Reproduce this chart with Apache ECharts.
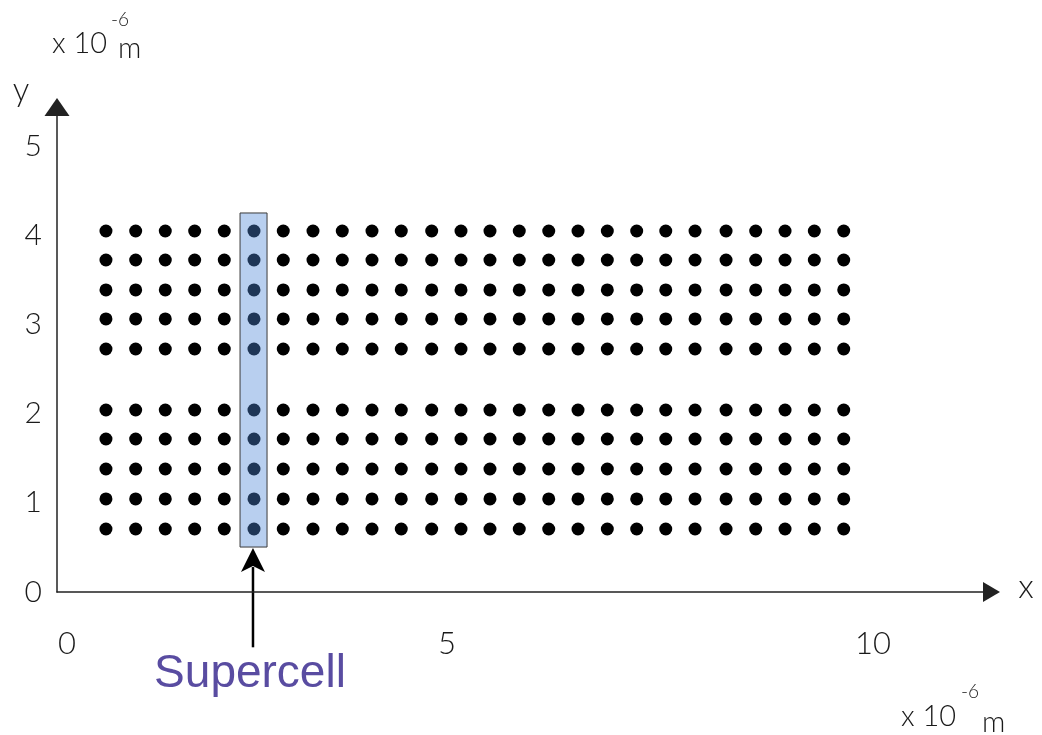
<!DOCTYPE html>
<html>
<head>
<meta charset="utf-8">
<script src="https://cdn.jsdelivr.net/npm/echarts@6/dist/echarts.min.js"></script>
<style>
html,body{margin:0;padding:0;background:#fff;}
#main{width:1042px;height:735px;}
</style>
</head>
<body>
<div id="main"></div>
<script>
// ---- data (units of 10^-6 m) ----
const xColumns = [0.600, 0.964, 1.327, 1.687, 2.050, 2.414, 2.773, 3.137, 3.496, 3.860, 4.219, 4.592, 4.951,
                  5.306, 5.665, 6.026, 6.385, 6.744, 7.104, 7.460, 7.819, 8.199, 8.562, 8.922, 9.281, 9.641];
const yRows = [0.706, 1.043, 1.379, 1.715, 2.040, 2.724, 3.061, 3.386, 3.722, 4.047];
const supercellColumn = 5;
const supercellXRange = [2.243, 2.574];
const supercellYRange = [0.504, 4.249];
const xTickLabels = [0, 5, 10];
const yTickLabels = [0, 1, 2, 3, 4, 5];
const arrowTailY = -0.62;

const points = [];
xColumns.forEach((x, i) => yRows.forEach(y => points.push([x, y, i])));

const chart = echarts.init(document.getElementById('main'), null, {renderer: 'canvas'});
const labelFont = 'Lato, "Open Sans", sans-serif';

chart.setOption({
  animation: false,
  backgroundColor: '#ffffff',
  grid: {left: 57, right: 50.5, top: 107, bottom: 143, containLabel: false},
  xAxis: {
    type: 'value', min: 0, max: 11.452, interval: 5,
    splitLine: {show: false}, axisTick: {show: false},
    axisLine: {onZero: false, lineStyle: {color: '#222', width: 1.5},
      symbol: ['none', 'triangle'], symbolSize: [20, 17]},
    axisLabel: {
      margin: 36, showMaxLabel: false, color: '#1a1a1a',
      fontFamily: labelFont, fontWeight: 300, fontSize: 31,
      formatter: v => {
        if (!xTickLabels.includes(v)) return '';
        if (v === 0) return '{a|' + v + '}';
        if (v === 5) return '{b|' + v + '}';
        return '{c|' + v + '}';
      },
      rich: {
        a: {padding: [0, 0, 0, 20], fontFamily: labelFont, fontWeight: 300, fontSize: 31, color: '#1a1a1a'},
        b: {padding: [0, 36, 0, 0], fontFamily: labelFont, fontWeight: 300, fontSize: 31, color: '#1a1a1a'},
        c: {fontFamily: labelFont, fontWeight: 300, fontSize: 31, color: '#1a1a1a'}
      }
    }
  },
  yAxis: {
    type: 'value', min: 0, max: 5.437, interval: 1,
    splitLine: {show: false}, axisTick: {show: false},
    axisLine: {onZero: false, lineStyle: {color: '#222', width: 1.5},
      symbol: ['none', 'triangle'], symbolSize: [25, 18]},
    axisLabel: {
      margin: 15, showMaxLabel: false, color: '#1a1a1a',
      fontFamily: labelFont, fontWeight: 300, fontSize: 30,
      formatter: v => yTickLabels.includes(v) ? String(v) : ''
    }
  },
  series: [
    {
      type: 'scatter', data: points, symbol: 'circle', symbolSize: 13, z: 2,
      itemStyle: {color: '#000', opacity: 1}, silent: true
    },
    {
      type: 'custom', z: 3, silent: true, clip: false,
      data: [[supercellXRange[0], supercellYRange[1], supercellXRange[1], supercellYRange[0]]],
      renderItem: (params, api) => {
        const p1 = api.coord([api.value(0), api.value(1)]);
        const p2 = api.coord([api.value(2), api.value(3)]);
        return {
          type: 'rect',
          shape: {x: p1[0], y: p1[1], width: p2[0] - p1[0], height: p2[1] - p1[1]},
          style: {fill: 'rgba(77,135,215,0.4)', stroke: '#3a3a3a', lineWidth: 1}
        };
      }
    }
  ]
});

// annotations
const tip = chart.convertToPixel({gridIndex: 0}, [xColumns[supercellColumn], supercellYRange[0]]);
const tail = chart.convertToPixel({gridIndex: 0}, [xColumns[supercellColumn], arrowTailY]);
const ax = tip[0] - 1;
const textFont = 'Lato, "Open Sans", sans-serif';
chart.setOption({
  graphic: [
    {type: 'line', shape: {x1: ax, y1: tail[1], x2: ax, y2: tip[1] + 20}, style: {stroke: '#000', lineWidth: 2.5}},
    {type: 'polygon', shape: {points: [[ax, tip[1] + 1], [ax - 12, tip[1] + 25], [ax, tip[1] + 19], [ax + 12, tip[1] + 25]]},
      style: {fill: '#000'}},
    {type: 'text', x: 250, y: 674, style: {text: 'Supercell', fill: '#594ca1',
      font: '46px "Liberation Sans", Arial, sans-serif', align: 'center', verticalAlign: 'middle'}},
    {type: 'text', x: 21, y: 90, style: {text: 'y', fill: '#1a1a1a',
      font: '300 33px ' + textFont, align: 'center', verticalAlign: 'middle'}},
    {type: 'text', x: 1026, y: 587, style: {text: 'x', fill: '#1a1a1a',
      font: '300 33px ' + textFont, align: 'center', verticalAlign: 'middle'}},
    {type: 'text', x: 52, y: 44, style: {text: 'x 10', fill: '#1a1a1a',
      font: '300 29px ' + textFont, align: 'left', verticalAlign: 'middle'}},
    {type: 'text', x: 111, y: 20, style: {text: '-6', fill: '#1a1a1a',
      font: '300 19px ' + textFont, align: 'left', verticalAlign: 'middle'}},
    {type: 'text', x: 118, y: 49, style: {text: 'm', fill: '#1a1a1a',
      font: '300 29px ' + textFont, align: 'left', verticalAlign: 'middle'}},
    {type: 'text', x: 901, y: 717, style: {text: 'x 10', fill: '#1a1a1a',
      font: '300 29px ' + textFont, align: 'left', verticalAlign: 'middle'}},
    {type: 'text', x: 961, y: 692, style: {text: '-6', fill: '#1a1a1a',
      font: '300 19px ' + textFont, align: 'left', verticalAlign: 'middle'}},
    {type: 'text', x: 982, y: 723, style: {text: 'm', fill: '#1a1a1a',
      font: '300 29px ' + textFont, align: 'left', verticalAlign: 'middle'}}
  ]
});
</script>
</body>
</html>
